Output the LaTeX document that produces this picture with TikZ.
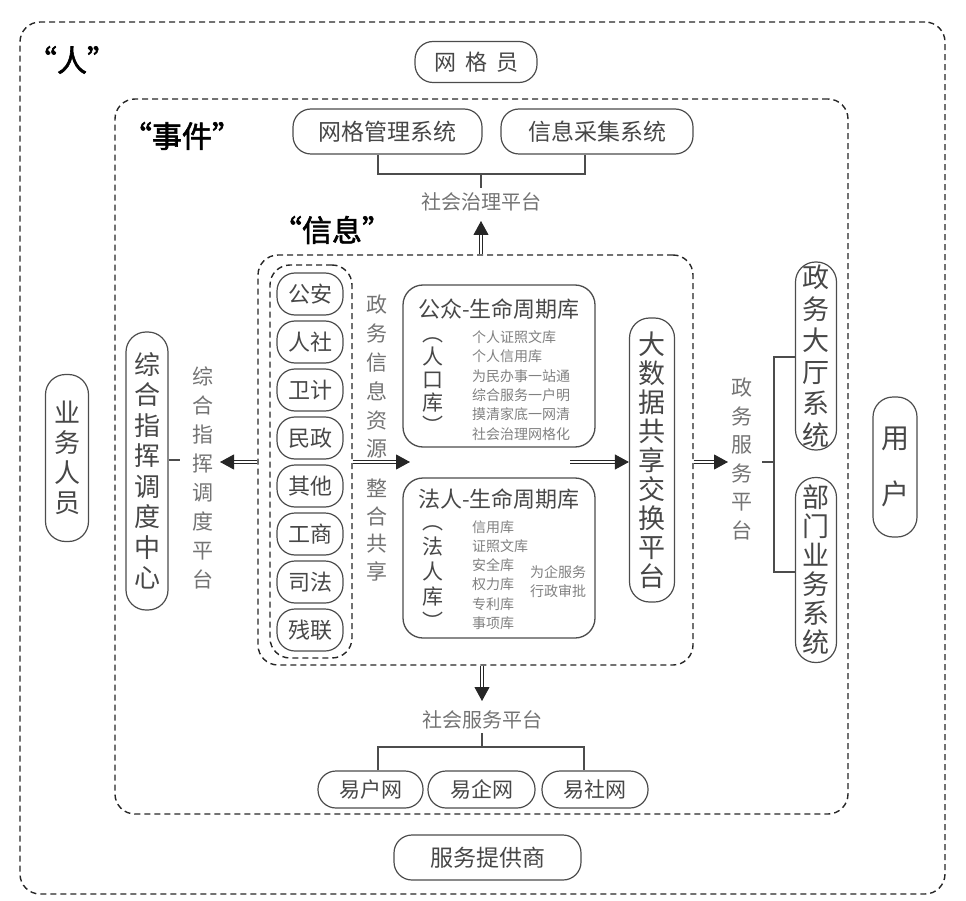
\documentclass[tikz,border=0pt]{standalone}
\usepackage{fontspec}
\setmainfont{Noto Sans CJK SC}
\newfontfamily\heavycjk[FakeBold=2]{Noto Sans CJK SC}
\usetikzlibrary{arrows.meta}
\definecolor{ln}{gray}{0.3}
\definecolor{tx}{gray}{0.28}
\definecolor{lt}{gray}{0.45}
\definecolor{sm}{gray}{0.5}
\newcommand\myfs[2]{\fontsize{#1}{#2}\selectfont}
\begin{document}
\begin{tikzpicture}[x=1pt,y=-1pt,
  dashbox/.style={draw=black!85, line width=1.4pt, dash pattern=on 6pt off 4pt, rounded corners=20pt, inner sep=0},
  pill/.style={draw=ln, line width=1.2pt, rounded corners=18pt, inner sep=0, text=tx},
  vpill/.style={draw=ln, line width=1.2pt, rounded corners=20pt, inner sep=0, text=tx, align=center},
  lbl/.style={text=lt, inner sep=0, align=center},
  small/.style={text=sm, inner sep=0, font=\myfs{14}{19}},
  conn/.style={draw=ln, line width=1.1pt},
  dbl/.style={draw=black!85, line width=0.9pt, double=white, double distance=2.6pt, -{Triangle[length=14pt,width=15pt]}},
  big/.style={font=\heavycjk\myfs{30}{30}, inner sep=0}
]
\useasboundingbox (0,0) rectangle (966,901);

% dashed frames
\node[dashbox, minimum width=925, minimum height=872] (ren) at (482.5,458) {};
\node[dashbox, minimum width=733, minimum height=715] (shijian) at (481.5,456.5) {};
\node[dashbox, minimum width=435, minimum height=410] (info) at (475.5,460) {};
\node[dashbox, minimum width=82, minimum height=393] (dept) at (311,461.5) {};

% quoted labels
\node[big] (tren) at (72,60) {“人”};
\node[big] (tsj) at (182,136) {“事件”};
\node[big] (txx) at (332,230) {“信息”};

% top
\node[pill, minimum width=122, minimum height=41, font=\myfs{22}{22}] (wgy) at (476,62) {网\hspace{9pt}格\hspace{9pt}员};
\node[pill, minimum width=189, minimum height=45, font=\myfs{23}{23}] (wg) at (387.5,131.5) {网格管理系统};
\node[pill, minimum width=192, minimum height=45, font=\myfs{23}{23}] (xx) at (597,131.5) {信息采集系统};
\coordinate (wgL) at (378,174);
\coordinate (wgR) at (585,174);
\coordinate (wgM) at (481,174);
\coordinate (wgMb) at (481,188);
\draw[conn] (wg.south -| wgL) -- (wgL) -- (wgR) -- (xx.south -| wgR);
\draw[conn] (wgM) -- (wgMb);
\node[lbl, font=\myfs{20}{20}] (zlpt) at (481,202) {社会治理平台};
\coordinate (upTip) at (481,221);
\draw[dbl] (info.north -| upTip) -- (upTip);

% departments
\foreach \t [count=\i] in {公安,人社,卫计,民政,其他,工商,司法,残联}{
  \node[pill, minimum width=66, minimum height=42, font=\myfs{22}{22}] (d\i) at (310,{294+48*(\i-1)}) {\t};
}
\node[lbl, font=\myfs{21}{28.8}] (zwxx) at (377,377) {政\\务\\信\\息\\资\\源};
\node[lbl, font=\myfs{21}{27.7}] (zhgx) at (377,530) {整\\合\\共\\享};
\coordinate (arrA) at (410,462);
\draw[dbl] (dept.east |- arrA) -- (arrA);

% public library
\node[draw=ln, line width=1.3pt, rounded corners=20pt, minimum width=192, minimum height=162, inner sep=0] (gz) at (499,366) {};
\node[text=tx, inner sep=0, font=\myfs{22}{22}] (gzt) at (499,309) {公众-生命周期库};
\node[text=tx, inner sep=0, align=center, font=\myfs{21}{23}] (rkk) at (433,386) {︵\\人\\口\\库\\︶};
\foreach \t [count=\i] in {个人证照文库,个人信用库,为民办事一站通,综合服务一户明,摸清家底一网清,社会治理网格化}{
  \node[small, anchor=west] (p\i) at (472,{337+19.4*(\i-1)}) {\t};
}

% legal library
\node[draw=ln, line width=1.3pt, rounded corners=20pt, minimum width=192, minimum height=160, inner sep=0] (fr) at (499,558) {};
\node[text=tx, inner sep=0, font=\myfs{22}{22}] (frt) at (499,499) {法人-生命周期库};
\node[text=tx, inner sep=0, align=center, font=\myfs{21}{25}] (frk) at (433,578) {︵\\法\\人\\库\\︶};
\foreach \t [count=\i] in {信用库,证照文库,安全库,权力库,专利库,事项库}{
  \node[small, anchor=west] (f\i) at (472,{527+19.2*(\i-1)}) {\t};
}
\node[small, anchor=west] (f7) at (530,572) {为企服务};
\node[small, anchor=west] (f8) at (530,591) {行政审批};

% big data platform
\node[vpill, minimum width=45, minimum height=284, font=\myfs{27}{29}] (dsj) at (652,460) {大\\数\\据\\共\\享\\交\\换\\平\\台};
\coordinate (arrB) at (570,462);
\draw[dbl] (arrB) -- (dsj.west |- arrB);

% right side
\node[lbl, font=\myfs{21}{28.6}] (zwfw) at (742,459) {政\\务\\服\\务\\平\\台};
\coordinate (arrC) at (728,462);
\draw[dbl] (info.east |- arrC) -- (arrC);
\node[vpill, minimum width=41, minimum height=188, font=\myfs{27}{31.5}] (dt) at (816,356) {政\\务\\大\\厅\\系\\统};
\node[vpill, minimum width=41, minimum height=185, font=\myfs{27}{29}] (bm) at (816,570) {部\\门\\业\\务\\系\\统};
\coordinate (rbA) at (762,462);
\coordinate (rbB) at (774,462);
\coordinate (rbT) at (774,357);
\coordinate (rbD) at (774,572);
\draw[conn] (rbA) -- (rbB);
\draw[conn] (dt.west |- rbT) -- (rbT) -- (rbD) -- (bm.west |- rbD);
\node[vpill, minimum width=44, minimum height=140, font=\myfs{28}{56}] (yh) at (895,467) {用\\户};

% left side
\node[vpill, minimum width=43, minimum height=167, font=\myfs{26}{30}] (ywry) at (67,458) {业\\务\\人\\员};
\node[vpill, minimum width=42, minimum height=278, font=\myfs{26}{30.5}] (zh) at (147,471) {综\\合\\指\\挥\\调\\度\\中\\心};
\coordinate (zhL) at (180,460);
\draw[conn] (zh.east |- zhL) -- (zhL);
\node[lbl, font=\myfs{21}{29}] (zhpt) at (203,478) {综\\合\\指\\挥\\调\\度\\平\\台};
\coordinate (arrD) at (220,462);
\draw[dbl] (info.west |- arrD) -- (arrD);

% bottom
\coordinate (dnTip) at (482,701);
\draw[dbl] (info.south -| dnTip) -- (dnTip);
\node[lbl, font=\myfs{20}{20}] (shfw) at (482,720) {社会服务平台};
\coordinate (bbM) at (482,733);
\coordinate (bbJ) at (482,747);
\coordinate (bbL) at (378,747);
\coordinate (bbR) at (584,747);
\draw[conn] (bbM) -- (bbJ);
\node[pill, minimum width=105, minimum height=37, font=\myfs{21}{21}] (yhw) at (370.5,789.5) {易户网};
\node[pill, minimum width=107, minimum height=37, font=\myfs{21}{21}] (yqw) at (481.5,789.5) {易企网};
\node[pill, minimum width=106, minimum height=37, font=\myfs{21}{21}] (ysw) at (595,789.5) {易社网};
\draw[conn] (yhw.north -| bbL) -- (bbL) -- (bbR) -- (ysw.north -| bbR);
\node[pill, minimum width=187, minimum height=45, font=\myfs{23}{23}] (fwtg) at (487.5,857.5) {服务提供商};
\end{tikzpicture}
\end{document}
